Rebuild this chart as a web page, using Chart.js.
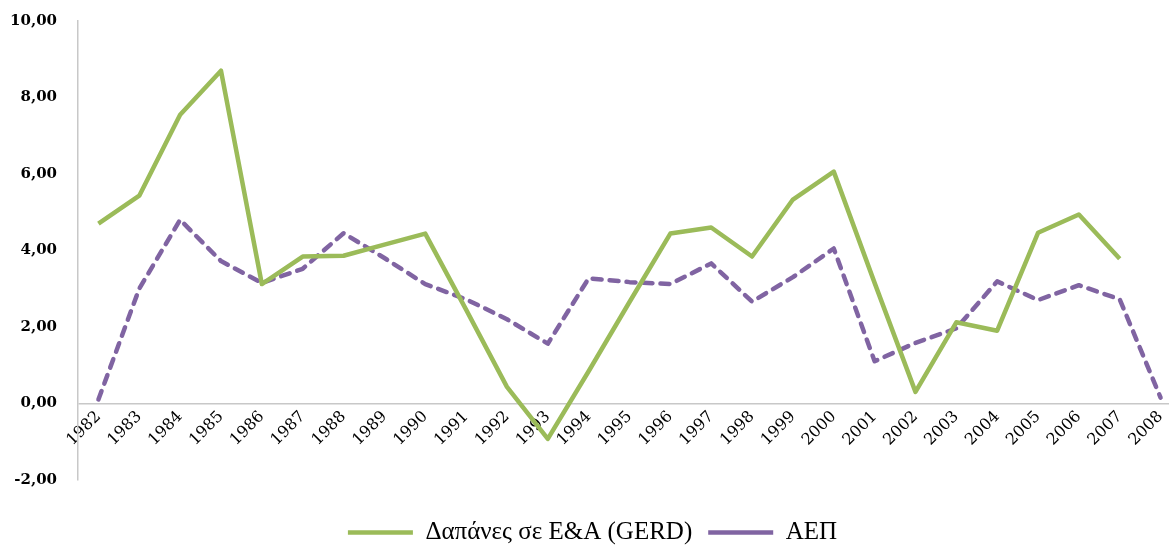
<!DOCTYPE html>
<html lang="el">
<head>
<meta charset="utf-8">
<title>Δαπάνες σε Ε&Α (GERD) και ΑΕΠ</title>
<script src="https://cdn.jsdelivr.net/npm/chart.js@4.4.1/dist/chart.umd.min.js"></script>
<style>
    html, body { margin: 0; padding: 0; background: #fff; overflow: hidden; }
    .chart-box { position: relative; top: -9px; width: 1182px; height: 554px; }
</style>
</head>
<body>
<div class="chart-box"><canvas id="gerdChart"></canvas></div>
<script>
const years = ["1982", "1983", "1984", "1985", "1986", "1987", "1988", "1989", "1990", "1991",
    "1992", "1993", "1994", "1995", "1996", "1997", "1998", "1999", "2000", "2001",
    "2002", "2003", "2004", "2005", "2006", "2007", "2008"];

const gerdValues = [4.70, 5.43, 7.55, 8.70, 3.12, 3.84, 3.86, 4.15, 4.44, 2.45,
    0.43, -0.93, 0.84, 2.65, 4.44, 4.60, 3.84, 5.33, 6.06, 3.15,
    0.30, 2.12, 1.90, 4.46, 4.94, 3.78, null];

const gdpValues = [0.10, 3.00, 4.80, 3.72, 3.15, 3.52, 4.45, 3.80, 3.12, 2.72,
    2.20, 1.56, 3.27, 3.17, 3.12, 3.66, 2.66, 3.30, 4.05, 1.10,
    1.58, 1.96, 3.19, 2.70, 3.09, 2.72, 0.15];

const yTicks = [-2, 0, 2, 4, 6, 8, 10];

const seriesNames = ["Δαπάνες σε Ε&Α (GERD)", "ΑΕΠ"];

(function () {
    const green = "#9BBB59";
    const purple = "#8064A2";
    const axisGrey = "#c8c8c8";

    const fmt = (v) => Number(v).toFixed(2).replace(".", ",");

    new Chart(document.getElementById("gerdChart"), {
        type: "line",
        data: {
            labels: years,
            datasets: [{
                label: seriesNames[0],
                data: gerdValues,
                borderColor: green,
                backgroundColor: green,
                borderWidth: 4.5,
                borderJoinStyle: "round",
                pointRadius: 0,
                tension: 0,
                spanGaps: false,
            }, {
                label: seriesNames[1],
                data: gdpValues,
                borderColor: purple,
                backgroundColor: purple,
                borderWidth: 4.5,
                borderDash: [9, 8],
                borderCapStyle: "round",
                borderJoinStyle: "round",
                pointRadius: 0,
                tension: 0,
            }],
        },
        options: {
            responsive: true,
            maintainAspectRatio: false,
            animation: false,
            layout: { padding: { left: 4, top: 0, right: 1, bottom: -10 } },
            plugins: {
                tooltip: { enabled: false },
                legend: {
                    position: "bottom",
                    title: { display: true, text: " ", font: { size: 1 }, padding: { top: 0, bottom: 23 } },
                    labels: {
                        usePointStyle: true,
                        pointStyle: "line",
                        pointStyleWidth: 65,
                        boxHeight: 5,
                        padding: 16,
                        color: "#000",
                        font: { family: "'Liberation Serif', serif", size: 25 },
                    },
                },
            },
            scales: {
                x: {
                    // axis crosses at 0, like the Excel original
                    position: { y: 0 },
                    offset: true,
                    grid: { display: false, drawTicks: false },
                    border: { display: false },
                    afterFit: (scale) => {
                        scale.paddingLeft = 0;
                        scale.paddingRight = 0;
                        scale.height -= 22;
                    },
                    ticks: {
                        autoSkip: false,
                        minRotation: 45,
                        maxRotation: 45,
                        padding: 4,
                        color: "#000",
                        font: { family: "'DejaVu Serif', serif", size: 16 },
                    },
                },
                y: {
                    min: -2,
                    max: 10,
                    afterBuildTicks: (scale) => { scale.ticks = yTicks.map((value) => ({ value })); },
                    afterFit: (scale) => { scale.width = 74; },
                    grid: {
                        drawTicks: false,
                        lineWidth: 1.5,
                        color: (ctx) => (ctx.tick && ctx.tick.value === 0 ? axisGrey : "rgba(0,0,0,0)"),
                    },
                    border: { display: true, color: axisGrey, width: 1.5 },
                    ticks: {
                        padding: 21,
                        color: "#000",
                        font: { family: "'DejaVu Serif', serif", size: 15, weight: "bold" },
                        callback: (value) => fmt(value),
                    },
                },
            },
        },
    });
})();
</script>
</body>
</html>
